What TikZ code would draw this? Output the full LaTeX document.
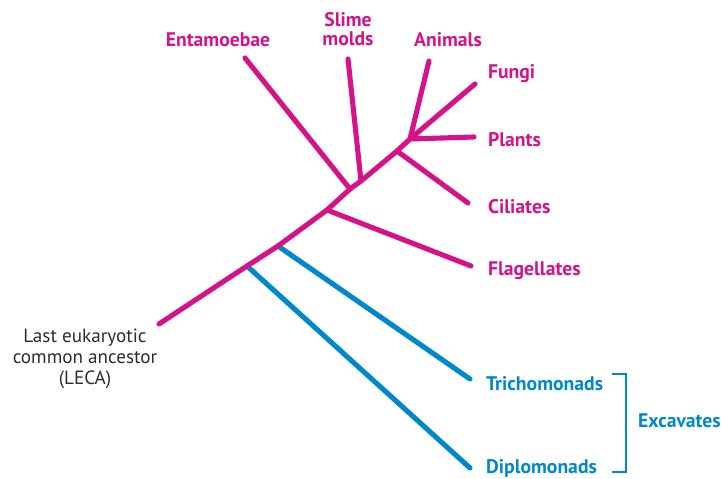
\documentclass[tikz,border=0pt]{standalone}
\usepackage{fontspec}
\setmainfont{PT Sans}
\usepackage{tikz}
\usetikzlibrary{calc, positioning}
\definecolor{Micolor1}{RGB}{214,18,138}
\definecolor{Micolor2}{RGB}{0,136,204}
\definecolor{Micolor3}{RGB}{45,45,45}

\begin{document}
\begin{tikzpicture}[
  x=0.02cm, y=-0.02cm,
  branch/.style={
    draw=#1, line width=2.9pt, line cap=round, line join=round
  },
  taxon/.style={
    font=\fontsize{11.2}{13}\selectfont\bfseries, text=#1,
    inner sep=1pt, align=center
  },
  bracket/.style={draw=Micolor2, line width=0.8pt}
]
\useasboundingbox (0,0) rectangle (721,479);

%% ═══════════════════════════════════════════════
%% Nudos del tronco
%% ═══════════════════════════════════════════════
\coordinate (leca)   at (159,324);
\coordinate (jdipl)  at (247,266);
\coordinate (jtric)  at (278,246);
\coordinate (jflag)  at (327,210);
\coordinate (jentam) at (350,189);
\coordinate (jslime) at (361,181);
\coordinate (jcil)   at (397,151);
\coordinate (jtop)   at (410,139);

%% Puntas de las ramas
\coordinate (tentam) at (245,58);
\coordinate (tslime) at (348,59);
\coordinate (tanim)  at (429,61);
\coordinate (tfungi) at (475,84);
\coordinate (tplant) at (474,137);
\coordinate (tcil)   at (468,203);
\coordinate (tflag)  at (471,266);
\coordinate (ttric)  at (470,379);
\coordinate (tdipl)  at (470,468);

%% ── Ramas ──────────────────────────────────────
\draw[branch=Micolor2] (jdipl) -- (tdipl);
\draw[branch=Micolor2] (jtric) -- (ttric);
\draw[branch=Micolor1] (leca) -- (jdipl) -- (jtric) -- (jflag)
  -- (jentam) -- (jslime) -- (jcil) -- (jtop);
\draw[branch=Micolor1] (jflag) -- (tflag);
\draw[branch=Micolor1] (jentam) -- (tentam);
\draw[branch=Micolor1] (jslime) -- (tslime);
\draw[branch=Micolor1] (jcil) -- (tcil);
\draw[branch=Micolor1] (jtop) -- (tanim);
\draw[branch=Micolor1] (jtop) -- (tfungi);
\draw[branch=Micolor1] (jtop) -- (tplant);

%% ── Etiquetas ──────────────────────────────────
\node[taxon=Micolor1] (entam) at (218,40) {Entamoebae};
\node[taxon=Micolor1] (slime) at (348,29) {Slime\\[-2pt]molds};
\node[taxon=Micolor1] (anim)  at (448,40) {Animals};
\node[taxon=Micolor1, anchor=west] (fungi) at (486,74)  {Fungi};
\node[taxon=Micolor1, anchor=west] (plant) at (486,140) {Plants};
\node[taxon=Micolor1, anchor=west] (cil)   at (486,207) {Ciliates};
\node[taxon=Micolor1, anchor=west] (flag)  at (486,271) {Flagellates};
\node[taxon=Micolor2, anchor=west] (tric)  at (484,384) {Trichomonads};
\node[taxon=Micolor2, anchor=west] (dipl)  at (484,468) {Diplomonads};
\node[taxon=Micolor2, anchor=west] (excav) at (636,421) {Excavates};

\node[font=\fontsize{10.9}{13}\selectfont, text=Micolor3, align=center]
  (lecalabel) at (85,359)
  {Last eukaryotic\\[-1pt]common ancestor\\[-1pt](LECA)};

%% ── Llave de Excavates ─────────────────────────
\coordinate (brtop) at (612,374);
\coordinate (brbot) at (612,472);
\draw[bracket] (brtop) -- ++(14,0) |- (brbot);

\end{tikzpicture}
\end{document}
